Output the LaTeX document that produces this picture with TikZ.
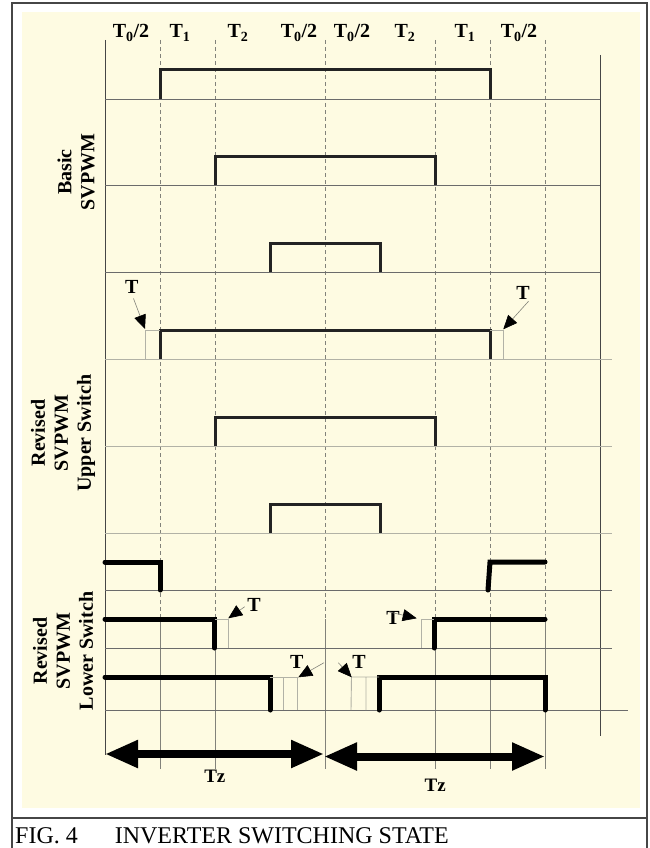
\documentclass[tikz,border=0pt]{standalone}
\usepackage{fontspec}
\setmainfont{Liberation Serif}
\usetikzlibrary{arrows.meta}
\definecolor{paper}{RGB}{254,251,226}
\definecolor{frame}{RGB}{70,70,70}
\definecolor{grid}{RGB}{130,130,122}
\definecolor{pale}{RGB}{178,178,166}
\definecolor{pulse}{RGB}{35,35,35}
\tikzset{
  gridline/.style={grid,line width=0.8pt},
  axisdark/.style={frame!80,line width=0.9pt},
  axislight/.style={pale,line width=1pt},
  pulseline/.style={pulse,line width=3pt},
  lowpulse/.style={black,line width=5pt,line cap=round},
  gapline/.style={pale,line width=0.9pt},
  tlab/.style={font=\fontsize{20}{22}\selectfont\bfseries,inner sep=0pt},
  tarrow/.style={-{Triangle[length=14pt,width=12pt,color=black]},grid,line width=0.6pt},
  sidelab/.style={rotate=90,align=center,font=\fontsize{20}{23}\selectfont\bfseries},
  tzarrow/.style={{Triangle[length=33pt,width=26pt]}-{Triangle[length=33pt,width=26pt]},line width=8pt}
}

\begin{document}
\begin{tikzpicture}[x=1pt,y=-1pt]
  \useasboundingbox (0,0) rectangle (650,848);
  \fill[paper] (22,12) rectangle (640,808);
  \draw[frame,line width=1.5pt] (12,848) -- (12,3) -- (647,3) -- (647,848);
  \draw[frame,line width=1.5pt] (12,818) -- (647,818);

  % time slots
  \draw[frame,line width=0.9pt] (105,40) -- (105,755);
  \draw[frame,line width=0.9pt] (600,55) -- (600,736);
  \foreach \x in {160,215,325,435,490,545}{
    \draw[gridline,dash pattern=on 4pt off 3pt] (\x,40) -- (\x,619);
    \draw[gridline] (\x,619) -- (\x,769);
  }
  \foreach \x/\t in {131/{T\textsubscript{0}/2},180/{T\textsubscript{1}},238/{T\textsubscript{2}},
      299/{T\textsubscript{0}/2},352/{T\textsubscript{0}/2},405/{T\textsubscript{2}},
      465/{T\textsubscript{1}},519/{T\textsubscript{0}/2}}
    \node[tlab,anchor=base] (slot\x) at (\x,38) {\t};

  % rows
  \foreach \y in {99,185,272} \draw[axisdark] (105,\y) -- (600,\y);
  \foreach \y in {359,446,533} \draw[axislight] (105,\y) -- (612,\y);
  \foreach \y in {590,648} \draw[axisdark] (105,\y) -- (612,\y);
  \draw[axisdark] (105,710) -- (628,710);

  \foreach \y/\a/\b in {99/160/490,185/215/435,272/270/380,359/160/490,446/215/435,533/270/380}
    \draw[pulseline] (\a,\y) -- (\a,\y-29) -- (\b,\y-29) -- (\b,\y);

  \draw[lowpulse] (105,562) -- (160,562) -- (160,590);
  \draw[lowpulse] (488,590) -- (490,562) -- (545,562);
  \draw[lowpulse] (105,619) -- (214.5,619) -- (214.5,648);
  \draw[lowpulse] (434,648) -- (434,619) -- (545,619);
  \draw[lowpulse] (105,677) -- (270,677) -- (270,710);
  \draw[lowpulse] (379,710) -- (379,677) -- (545,677) -- (545,710);

  % dead time
  \draw[gapline] (145,359) -- (145,330) -- (160,330);
  \draw[gapline] (490,330) -- (503,330) -- (503,359);
  \draw[gapline] (214.5,619) -- (228,619) -- (228,648);
  \draw[gapline] (421,648) -- (421,619) -- (434,619);
  \draw[gapline] (270,677) -- (297,677) (283,677) -- (283,710) (297,677) -- (297,710);
  \draw[gapline] (351,710) -- (351.5,677) -- (379,677) (366,677) -- (366,710);

  \node[tlab] (t1) at (131.7,287) {T};
  \node[tlab] (t2) at (523,293) {T};
  \node[tlab] (t3) at (254,605) {T};
  \node[tlab] (t4) at (393,618) {T};
  \node[tlab] (t5) at (296.7,662) {T};
  \node[tlab] (t6) at (359,662) {T};
  \coordinate (g1) at (145,329);
  \coordinate (g2) at (503.3,329.3);
  \coordinate (g3) at (228.3,618.3);
  \coordinate (g4) at (416.7,618.3);
  \coordinate (g5) at (298.3,677.3);
  \coordinate (g6) at (351.7,677.3);
  \coordinate (s5) at (324,662.7);
  \coordinate (s6) at (338.3,662.7);
  \draw[tarrow,shorten <=5pt] (t1.south) -- (g1);
  \draw[tarrow,shorten <=2pt] (t2.south east) -- (g2);
  \draw[tarrow,shorten <=3pt] (t3.west) -- (g3);
  \draw[tarrow,shorten <=3pt] (t4.north west) -- (g4);
  \draw[tarrow] (s5) -- (g5);
  \draw[tarrow] (s6) -- (g6);

  \node[sidelab] (basic) at (76,172) {Basic\\SVPWM};
  \node[sidelab] (upper) at (63,433) {Revised\\SVPWM\\Upper Switch};
  \node[sidelab] (lower) at (63,651) {Revised\\SVPWM\\Lower Switch};

  \coordinate (z0) at (105,754);
  \coordinate (z1) at (324,754);
  \coordinate (z2) at (324,756.5);
  \coordinate (z3) at (545,756.5);
  \draw[tzarrow] (z0) -- (z1);
  \draw[tzarrow] (z2) -- (z3);
  \node[font=\fontsize{19}{21}\selectfont\bfseries] (tz1) at (214.8,776.5) {Tz};
  \node[font=\fontsize{19}{21}\selectfont\bfseries] (tz2) at (435.2,785.6) {Tz};

  \node[anchor=base west,inner sep=0pt,font=\fontsize{24}{26}\selectfont] (caption) at (15,843)
    {FIG. 4\hspace{37pt}INVERTER SWITCHING STATE};
\end{tikzpicture}
\end{document}
